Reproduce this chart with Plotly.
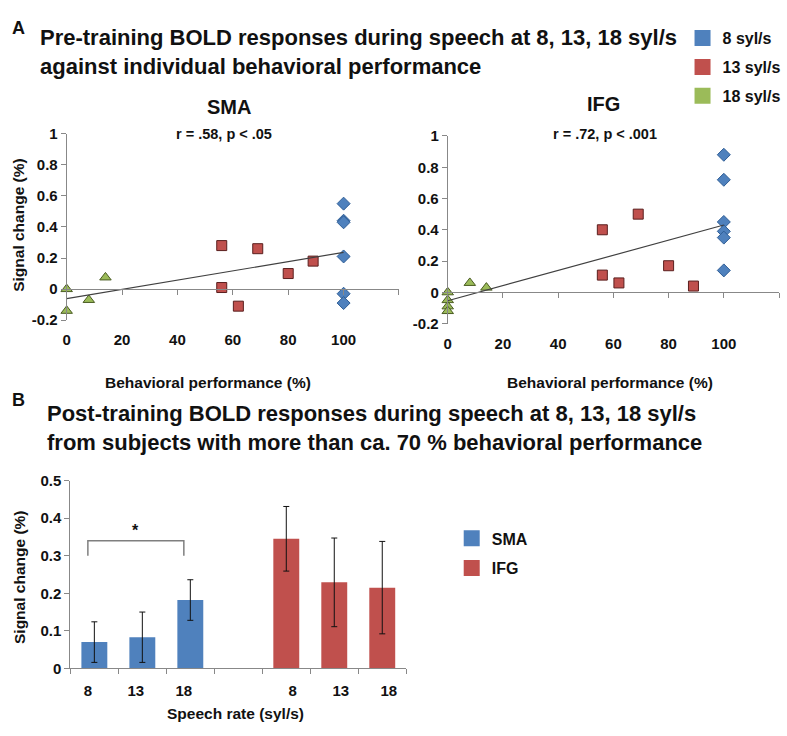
import numpy as np
import plotly.graph_objects as go

W, H = 787, 736

# ---------------- Data: panel A (pre-training) ----------------
rate_names = ["8 syl/s", "13 syl/s", "18 syl/s"]

sma_8_x = [100, 100, 100, 100, 100, 100]
sma_8_y = [0.55, 0.44, 0.43, 0.21, -0.03, -0.09]
sma_13_x = [56, 56, 62, 69, 80, 89]
sma_13_y = [0.28, 0.01, -0.11, 0.26, 0.10, 0.18]
sma_18_x = [0, 0, 8, 14]
sma_18_y = [0.0, -0.14, -0.07, 0.075]

ifg_8_x = [100, 100, 100, 100, 100, 100]
ifg_8_y = [0.88, 0.72, 0.45, 0.39, 0.35, 0.14]
ifg_13_x = [56, 69, 56, 62, 80, 89]
ifg_13_y = [0.40, 0.50, 0.11, 0.06, 0.17, 0.04]
ifg_18_x = [0, 0, 0, 0, 8, 14]
ifg_18_y = [0.0, -0.05, -0.09, -0.12, 0.06, 0.03]

sma_stats = "r = .58, p < .05"
ifg_stats = "r = .72, p < .001"

perf_ticks = [0, 20, 40, 60, 80, 100]
perf_axis_ticks = [0, 20, 40, 60, 80, 100, 120]
signal_ticks = [1, 0.8, 0.6, 0.4, 0.2, 0, -0.2]
signal_ticktext = ["1", "0.8", "0.6", "0.4", "0.2", "0", "-0.2"]

# ---------------- Data: panel B (post-training) ----------------
region_names = ["SMA", "IFG"]
rate_labels = ["8", "13", "18"]
sma_slots = [0, 1, 2]
ifg_slots = [4, 5, 6]
sma_bar = [0.07, 0.083, 0.182]
sma_err = [0.054, 0.067, 0.054]
ifg_bar = [0.345, 0.229, 0.215]
ifg_err = [0.086, 0.118, 0.123]
bar_ticks = [0, 0.1, 0.2, 0.3, 0.4, 0.5]
bar_ticktext = ["0", "0.1", "0.2", "0.3", "0.4", "0.5"]
sig_pair = (0, 2)     # SMA 8 vs 18 syl/s
sig_top = 0.34
sig_leg = 0.30
sig_mark = "*"

# ---------------- Styling ----------------
BLUE, RED, GREEN = "#4F81BD", "#C0504D", "#9BBB59"
OUTLINES = ["#2F5E96", "#5A1F1E", "#4A5C22"]
SYMBOLS = ["diamond", "square", "triangle-up"]
COLORS = [BLUE, RED, GREEN]
AX = "#888888"
TXT = "#111111"
FONT = "Arial, Liberation Sans, Helvetica, sans-serif"
BARGAP = 0.46
BAR_OFFSET = (1 - BARGAP) / 4


def px(x):
    return x / W


def py(y):
    return 1 - y / H


fig = go.Figure()

panels = [
    dict(xa="x", ya="y", za="x3", dx=(63, 397), dy=(318.5, 127.7),
         xs=(sma_8_x, sma_13_x, sma_18_x), ys=(sma_8_y, sma_13_y, sma_18_y)),
    dict(xa="x2", ya="y2", za="x4", dx=(446, 779), dy=(322, 130),
         xs=(ifg_8_x, ifg_13_x, ifg_18_x), ys=(ifg_8_y, ifg_13_y, ifg_18_y)),
]

tick_font = dict(family=FONT, size=15, color=TXT, weight="bold")
layout_axes = {}
for i, p in enumerate(panels):
    # trend line: least-squares fit over all points of the panel
    all_x = np.concatenate([np.asarray(v, float) for v in p["xs"]])
    all_y = np.concatenate([np.asarray(v, float) for v in p["ys"]])
    slope, icpt = np.polyfit(all_x, all_y, 1)
    lx = np.array([all_x.min(), all_x.max()])
    fig.add_trace(go.Scatter(x=lx, y=slope * lx + icpt, mode="lines",
                             line=dict(color="#404040", width=1.2),
                             xaxis=p["za"], yaxis=p["ya"], showlegend=False,
                             hoverinfo="skip"))
    for k in range(3):
        fig.add_trace(go.Scatter(
            x=p["xs"][k], y=p["ys"][k], mode="markers", name=rate_names[k],
            marker=dict(symbol=SYMBOLS[k], size=10, color=COLORS[k],
                        line=dict(color=OUTLINES[k], width=1)),
            xaxis=p["xa"], yaxis=p["ya"], showlegend=False, cliponaxis=False))

    d0, d1 = py(p["dy"][0]), py(p["dy"][1])
    zero_pos = d0 + (0 - (-0.2)) / 1.2 * (d1 - d0)
    xn = p["xa"].replace("x", "xaxis")
    yn = p["ya"].replace("y", "yaxis")
    zn = p["za"].replace("x", "xaxis")
    layout_axes[xn] = dict(domain=[px(p["dx"][0]), px(p["dx"][1])], anchor=p["ya"],
                           range=[0, 120], tickvals=perf_ticks, showline=False,
                           showgrid=False, zeroline=False, ticks="outside", ticklen=6,
                           tickcolor="rgba(0,0,0,0)", tickfont=tick_font)
    layout_axes[yn] = dict(domain=[d0, d1], anchor=p["xa"], range=[-0.2, 1],
                           tickvals=signal_ticks, ticktext=signal_ticktext,
                           showline=True, linecolor=AX, linewidth=1, ticks="outside",
                           ticklen=5, tickcolor=AX, showgrid=False, zeroline=False,
                           tickfont=tick_font)
    layout_axes[zn] = dict(overlaying=p["xa"], anchor="free", position=zero_pos,
                           range=[0, 120], tickvals=perf_axis_ticks, showticklabels=False,
                           showline=True, linecolor=AX, linewidth=1, ticks="outside",
                           ticklen=5, tickcolor=AX, showgrid=False, zeroline=False)

# ---------------- Panel B bars ----------------
for name, slots, vals, errs, col in [("SMA", sma_slots, sma_bar, sma_err, BLUE),
                                      ("IFG", ifg_slots, ifg_bar, ifg_err, RED)]:
    fig.add_trace(go.Bar(x=slots, y=vals, name=name, marker=dict(color=col, line=dict(width=0)),
                         error_y=dict(type="data", array=errs, color="#111111",
                                      thickness=1, width=3),
                         xaxis="x5", yaxis="y5", showlegend=False))

label_pos = [s - BAR_OFFSET for s in sma_slots] + [s + BAR_OFFSET for s in ifg_slots]
layout_axes["xaxis5"] = dict(domain=[px(66.7), px(404.3)], anchor="y5", range=[-0.5, 6.5],
                             tickvals=label_pos, ticktext=rate_labels + rate_labels,
                             ticks="outside", ticklen=9, tickcolor="rgba(0,0,0,0)",
                             minor=dict(tickvals=[i - 0.5 for i in range(8)], ticks="outside",
                                        ticklen=5, tickcolor=AX),
                             showline=True, linecolor=AX, showgrid=False, zeroline=False,
                             tickfont=tick_font)
layout_axes["yaxis5"] = dict(domain=[py(675), py(482.7)], anchor="x5", range=[0, 0.5],
                             tickvals=bar_ticks, ticktext=bar_ticktext, showline=True,
                             linecolor=AX, ticks="outside", ticklen=5, tickcolor=AX,
                             showgrid=False, zeroline=False, tickfont=tick_font)

# ---------------- Legends (square swatches) ----------------
for k in range(3):
    fig.add_trace(go.Scatter(x=[None], y=[None], mode="markers", name=rate_names[k],
                             marker=dict(symbol="square", size=16, color=COLORS[k]),
                             legend="legend", legendgroup=rate_names[k],
                             xaxis="x", yaxis="y", hoverinfo="skip"))
for name, col in zip(region_names, [BLUE, RED]):
    fig.add_trace(go.Scatter(x=[None], y=[None], mode="markers", name=name,
                             marker=dict(symbol="square", size=16, color=col),
                             legend="legend2", legendgroup=name,
                             xaxis="x5", yaxis="y5", hoverinfo="skip"))

leg_font = dict(family=FONT, size=16, color=TXT, weight="bold")


# ---------------- Annotations ----------------
def ann(text, x, y, size=15.5, xanchor="center", yanchor="middle", angle=0, ref="paper", **kw):
    d = dict(text=text, x=x, y=y, showarrow=False, xanchor=xanchor, yanchor=yanchor,
             textangle=angle, font=dict(family=FONT, size=size, color=TXT, weight="bold"),
             align="left")
    if ref == "paper":
        d.update(xref="paper", yref="paper")
    d.update(kw)
    return d


annotations = [
    ann("A", px(14.5), py(19), size=18),
    ann("Pre-training BOLD responses during speech at 8, 13, 18 syl/s<br>"
        "against individual behavioral performance", px(34), py(44), size=22, xanchor="left"),
    ann("SMA", px(225.7), py(100), size=20),
    ann("IFG", px(602.5), py(97.5), size=20),
    ann(sma_stats, px(221), py(128.3), size=14.5),
    ann(ifg_stats, px(604), py(128), size=14.5),
    ann("Signal change (%)", px(15), py(221), angle=-90),
    ann("Behavioral performance (%)", px(205), py(382)),
    ann("Behavioral performance (%)", px(609), py(382)),
    ann("B", px(14.5), py(400), size=18),
    ann("Post-training BOLD responses during speech at 8, 13, 18 syl/s<br>"
        "from subjects with more than ca. 70 % behavioral performance", px(41), py(428.5),
        size=22, xanchor="left"),
    ann("Signal change (%)", px(15.5), py(581), angle=-90),
    ann("Speech rate (syl/s)", px(232.5), py(721)),
    ann(sig_mark, (sig_pair[0] + sig_pair[1]) / 2 - BAR_OFFSET, sig_top, size=16,
        yanchor="bottom", ref="data", xref="x5", yref="y5"),
]

x0 = sig_pair[0] - BAR_OFFSET
x1 = sig_pair[1] - BAR_OFFSET
shapes = [dict(type="path", xref="x5", yref="y5",
               path=f"M {x0},{sig_leg} L {x0},{sig_top} L {x1},{sig_top} L {x1},{sig_leg}",
               line=dict(color="#7F7F7F", width=1.5))]

fig.update_layout(
    width=W, height=H, autosize=False,
    margin=dict(l=0, r=0, t=0, b=0),
    paper_bgcolor="white", plot_bgcolor="white",
    font=dict(family=FONT, color=TXT),
    barmode="group", bargap=BARGAP, bargroupgap=0,
    legend=dict(x=px(682), y=py(12.5), xanchor="left", yanchor="top", font=leg_font,
                bgcolor="rgba(0,0,0,0)", tracegroupgap=5, itemwidth=30),
    legend2=dict(x=px(450), y=py(524.5), xanchor="left", yanchor="top", font=leg_font,
                 bgcolor="rgba(0,0,0,0)", tracegroupgap=6, itemwidth=30),
    annotations=annotations, shapes=shapes,
    **layout_axes,
)

fig.write_html(
    "out.html", config={"displayModeBar": False},
    post_script=(
        "document.documentElement.style.margin='0';"
        "document.documentElement.style.overflow='hidden';"
        "document.body.style.margin='0';"
        "document.body.style.overflow='hidden';"
        "var gd=document.getElementById('{plot_id}');"
        "gd.style.position='fixed';gd.style.top='0';gd.style.left='0';"
    ),
)
